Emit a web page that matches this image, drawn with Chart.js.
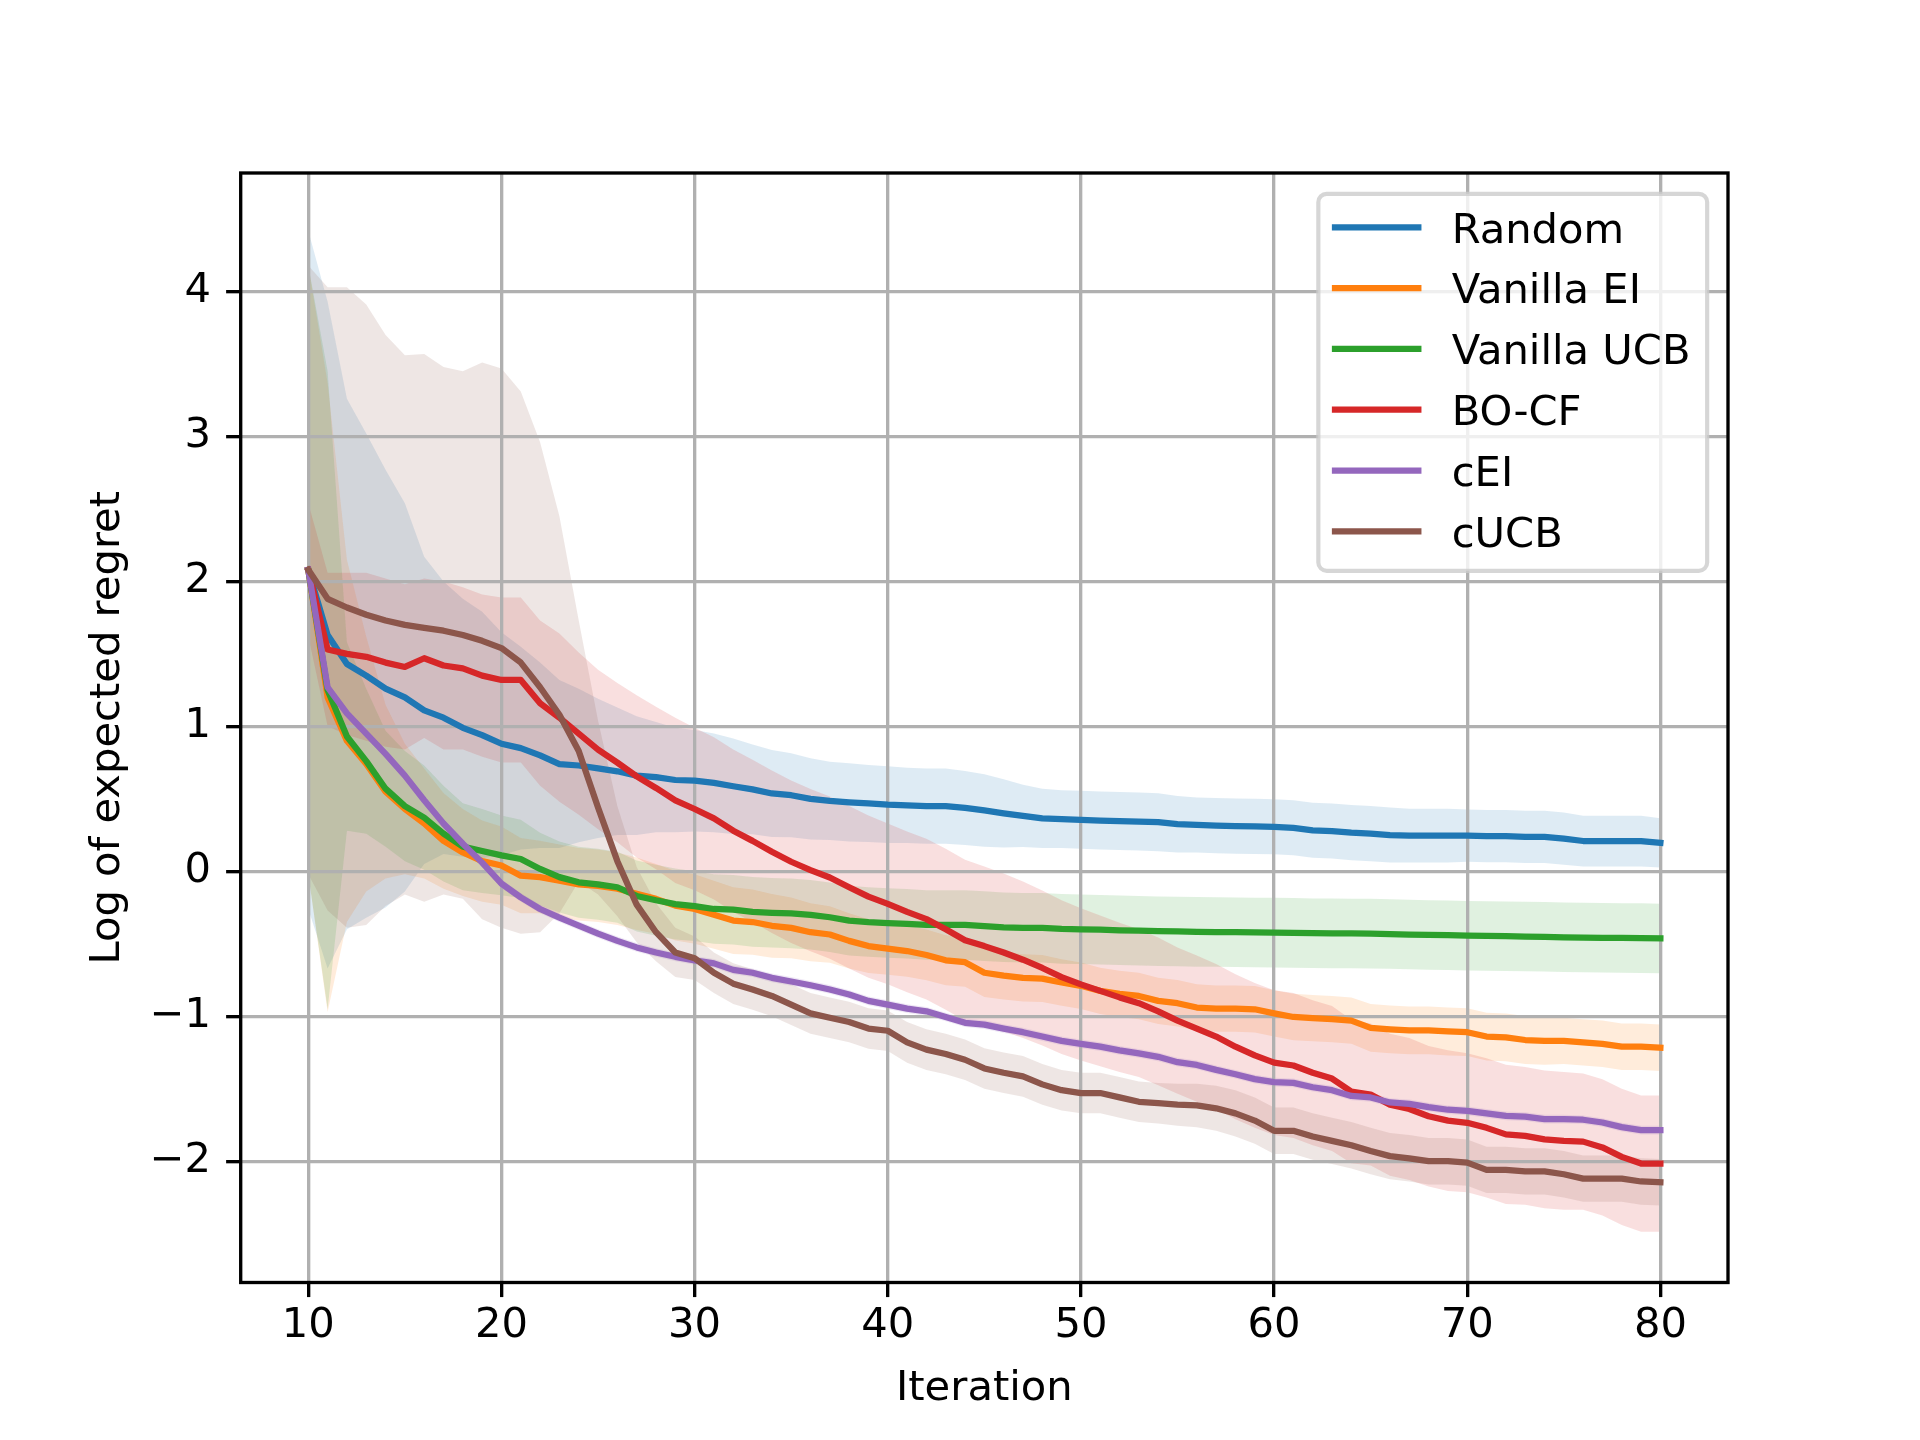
<!DOCTYPE html>
<html>
<head>
<meta charset="utf-8">
<style>
html,body{margin:0;padding:0;background:#ffffff;}
#wrap{width:1920px;height:1440px;}
canvas{display:block;}
</style>
<script src="https://cdn.jsdelivr.net/npm/chart.js@4.4.0/dist/chart.umd.min.js"></script>
</head>
<body>
<div id="wrap"><canvas id="c" width="1920" height="1440" style="width:1920px;height:1440px"></canvas></div>
<script>
// ---------------- DATA ----------------
const iterations = [10,11,12,13,14,15,16,17,18,19,20,21,22,23,24,25,26,27,28,29,30,31,32,33,34,35,36,37,38,39,40,41,42,43,44,45,46,47,48,49,50,51,52,53,54,55,56,57,58,59,60,61,62,63,64,65,66,67,68,69,70,71,72,73,74,75,76,77,78,79,80];
const xTicks = [10,20,30,40,50,60,70,80];
const yTicks = [-2,-1,0,1,2,3,4];
const seriesNames = ['Random','Vanilla EI','Vanilla UCB','BO-CF','cEI','cUCB'];

const randomMean = [2.08,1.63,1.43,1.35,1.26,1.20,1.11,1.06,0.99,0.94,
 0.88,0.85,0.80,0.74,0.73,0.71,0.69,0.66,0.65,0.63,
 0.625,0.61,0.587,0.565,0.537,0.525,0.50,0.486,0.476,0.468,
 0.46,0.455,0.45,0.45,0.437,0.42,0.40,0.383,0.365,0.36,
 0.355,0.35,0.347,0.343,0.339,0.325,0.32,0.315,0.312,0.31,
 0.307,0.30,0.283,0.278,0.267,0.26,0.25,0.246,0.246,0.246,
 0.246,0.243,0.243,0.238,0.238,0.225,0.209,0.209,0.209,0.209,
 0.196];
const randomStd = [2.34,2.30,1.83,1.67,1.51,1.34,1.06,0.94,0.89,0.85,
 0.77,0.70,0.64,0.58,0.53,0.48,0.44,0.41,0.38,0.36,
 0.35,0.34,0.33,0.31,0.30,0.29,0.28,0.27,0.27,0.265,
 0.265,0.26,0.26,0.26,0.255,0.25,0.235,0.215,0.205,0.20,
 0.20,0.20,0.20,0.20,0.20,0.195,0.19,0.19,0.19,0.19,
 0.19,0.19,0.19,0.19,0.19,0.19,0.19,0.185,0.185,0.185,
 0.18,0.18,0.18,0.18,0.18,0.18,0.175,0.175,0.175,0.175,
 0.17];

const eiMean = [2.08,1.20,0.90,0.74,0.55,0.43,0.33,0.21,0.13,0.07,
 0.04,-0.03,-0.04,-0.065,-0.09,-0.10,-0.12,-0.155,-0.19,-0.237,
 -0.26,-0.30,-0.34,-0.35,-0.376,-0.39,-0.42,-0.436,-0.48,-0.516,
 -0.534,-0.55,-0.577,-0.614,-0.627,-0.70,-0.72,-0.735,-0.74,-0.767,
 -0.79,-0.825,-0.846,-0.86,-0.894,-0.91,-0.94,-0.947,-0.947,-0.952,
 -0.98,-1.005,-1.013,-1.02,-1.03,-1.08,-1.09,-1.098,-1.098,-1.105,
 -1.11,-1.14,-1.146,-1.164,-1.17,-1.17,-1.18,-1.19,-1.21,-1.21,
 -1.217];
const eiStd = [2.10,2.17,1.25,0.88,0.60,0.45,0.38,0.33,0.30,0.28,
 0.27,0.26,0.25,0.25,0.25,0.25,0.25,0.25,0.24,0.24,
 0.24,0.235,0.23,0.225,0.22,0.21,0.20,0.195,0.19,0.185,
 0.18,0.178,0.175,0.172,0.17,0.168,0.165,0.163,0.162,0.16,
 0.16,0.16,0.16,0.16,0.16,0.16,0.16,0.16,0.16,0.16,
 0.16,0.16,0.16,0.16,0.16,0.165,0.165,0.165,0.165,0.165,
 0.165,0.165,0.165,0.165,0.165,0.16,0.16,0.16,0.16,0.16,
 0.16];

const ucbMean = [2.08,1.25,0.93,0.76,0.57,0.45,0.37,0.26,0.17,0.14,
 0.11,0.085,0.016,-0.04,-0.076,-0.09,-0.11,-0.17,-0.20,-0.226,
 -0.24,-0.26,-0.265,-0.28,-0.286,-0.29,-0.30,-0.317,-0.34,-0.35,
 -0.357,-0.362,-0.37,-0.37,-0.37,-0.378,-0.386,-0.39,-0.39,-0.397,
 -0.40,-0.403,-0.407,-0.41,-0.413,-0.415,-0.418,-0.419,-0.42,-0.422,
 -0.423,-0.425,-0.427,-0.428,-0.429,-0.43,-0.433,-0.436,-0.439,-0.441,
 -0.444,-0.446,-0.448,-0.45,-0.452,-0.455,-0.457,-0.459,-0.46,-0.461,
 -0.463];
const ucbStd = [2.10,2.20,0.65,0.50,0.40,0.38,0.36,0.33,0.30,0.29,
 0.275,0.27,0.25,0.245,0.245,0.245,0.245,0.245,0.245,0.245,
 0.24,0.24,0.24,0.24,0.24,0.24,0.24,0.24,0.24,0.24,
 0.24,0.24,0.24,0.24,0.24,0.24,0.24,0.24,0.24,0.24,
 0.24,0.24,0.24,0.24,0.24,0.24,0.24,0.24,0.24,0.24,
 0.24,0.24,0.24,0.24,0.24,0.24,0.24,0.24,0.24,0.24,
 0.24,0.24,0.24,0.24,0.24,0.24,0.24,0.24,0.24,0.24,
 0.24];

const bocfMean = [2.08,1.53,1.50,1.48,1.44,1.41,1.47,1.42,1.40,1.35,
 1.32,1.32,1.16,1.06,0.95,0.84,0.75,0.655,0.575,0.49,
 0.43,0.365,0.28,0.21,0.135,0.066,0.008,-0.043,-0.11,-0.175,
 -0.225,-0.28,-0.33,-0.40,-0.476,-0.516,-0.56,-0.61,-0.667,-0.73,
 -0.78,-0.825,-0.87,-0.91,-0.966,-1.03,-1.085,-1.14,-1.21,-1.27,
 -1.32,-1.34,-1.39,-1.43,-1.52,-1.54,-1.61,-1.64,-1.69,-1.72,
 -1.735,-1.77,-1.815,-1.825,-1.85,-1.86,-1.865,-1.905,-1.97,-2.016,
 -2.016];
const bocfStd = [0.46,0.53,0.56,0.58,0.58,0.57,0.55,0.58,0.56,0.56,
 0.57,0.57,0.57,0.58,0.56,0.55,0.55,0.56,0.56,0.57,
 0.56,0.56,0.56,0.56,0.56,0.56,0.56,0.56,0.56,0.56,
 0.555,0.555,0.555,0.555,0.555,0.55,0.545,0.54,0.535,0.53,
 0.525,0.52,0.515,0.51,0.51,0.505,0.505,0.5,0.5,0.5,
 0.5,0.5,0.5,0.5,0.495,0.49,0.49,0.49,0.485,0.485,
 0.48,0.48,0.48,0.475,0.475,0.475,0.47,0.47,0.47,0.47,
 0.47];

const ceiMean = [2.08,1.27,1.09,0.95,0.81,0.66,0.49,0.33,0.19,0.06,
 -0.085,-0.18,-0.26,-0.32,-0.375,-0.43,-0.48,-0.525,-0.56,-0.59,
 -0.615,-0.635,-0.68,-0.70,-0.735,-0.76,-0.786,-0.815,-0.85,-0.894,
 -0.92,-0.947,-0.966,-1.005,-1.045,-1.058,-1.085,-1.11,-1.14,-1.17,
 -1.19,-1.21,-1.235,-1.256,-1.28,-1.317,-1.336,-1.37,-1.40,-1.434,
 -1.455,-1.46,-1.49,-1.51,-1.55,-1.56,-1.595,-1.605,-1.627,-1.645,
 -1.653,-1.67,-1.688,-1.693,-1.71,-1.71,-1.714,-1.733,-1.765,-1.786,
 -1.786];
const ceiStd = [0.03,0.03,0.03,0.03,0.03,0.03,0.03,0.03,0.03,0.03,
 0.03,0.03,0.03,0.03,0.03,0.03,0.03,0.03,0.03,0.03,
 0.03,0.03,0.03,0.03,0.03,0.03,0.03,0.03,0.03,0.03,
 0.03,0.03,0.03,0.03,0.03,0.03,0.03,0.03,0.03,0.03,
 0.03,0.03,0.03,0.03,0.03,0.03,0.03,0.03,0.03,0.03,
 0.03,0.03,0.03,0.03,0.03,0.03,0.03,0.03,0.03,0.03,
 0.03,0.03,0.03,0.03,0.03,0.03,0.03,0.03,0.03,0.03,
 0.03];

const cucbMean = [2.08,1.88,1.82,1.77,1.73,1.70,1.68,1.66,1.63,1.59,
 1.54,1.44,1.27,1.08,0.83,0.44,0.07,-0.23,-0.42,-0.56,
 -0.60,-0.70,-0.775,-0.815,-0.86,-0.92,-0.98,-1.01,-1.04,-1.085,
 -1.10,-1.18,-1.23,-1.26,-1.30,-1.36,-1.39,-1.415,-1.47,-1.51,
 -1.53,-1.53,-1.56,-1.59,-1.60,-1.61,-1.615,-1.635,-1.67,-1.72,
 -1.79,-1.79,-1.83,-1.86,-1.89,-1.93,-1.965,-1.98,-2.0,-2.0,
 -2.01,-2.06,-2.06,-2.07,-2.07,-2.09,-2.12,-2.12,-2.12,-2.14,
 -2.145];
const cucbStd = [2.10,2.15,2.21,2.14,1.97,1.86,1.89,1.82,1.82,1.92,
 1.93,1.87,1.69,1.37,0.90,0.60,0.38,0.26,0.20,0.17,
 0.15,0.14,0.14,0.14,0.14,0.14,0.14,0.14,0.14,0.14,
 0.14,0.14,0.14,0.14,0.14,0.14,0.14,0.14,0.14,0.14,
 0.14,0.14,0.14,0.14,0.14,0.145,0.15,0.155,0.16,0.16,
 0.16,0.16,0.16,0.16,0.16,0.16,0.16,0.16,0.16,0.16,
 0.16,0.16,0.16,0.16,0.16,0.16,0.16,0.16,0.16,0.16,
 0.16];

// ---------------- STYLE ----------------
const PX = 300/72;               // 1pt at 300 dpi
const FS = 10*PX;                // 10pt font
const lineColors = ['#1f77b4','#ff7f0e','#2ca02c','#d62728','#9467bd','#8c564b'];
const bandColors = ['rgba(31,119,180,0.15)','rgba(255,127,14,0.15)','rgba(44,160,44,0.15)',
                    'rgba(214,39,40,0.15)','rgba(148,103,189,0.15)','rgba(140,86,75,0.15)'];

const means = [randomMean, eiMean, ucbMean, bocfMean, ceiMean, cucbMean];
const stds  = [randomStd, eiStd, ucbStd, bocfStd, ceiStd, cucbStd];

const datasets = [];
means.forEach((m, k) => {
  // upper edge, filled down to the following (lower edge) dataset
  datasets.push({
    label: seriesNames[k] + ' upper',
    data: iterations.map((x, i) => ({x: x, y: m[i] + stds[k][i]})),
    borderColor: 'rgba(0,0,0,0)', borderWidth: 1, pointRadius: 0,
    backgroundColor: bandColors[k],
    fill: '+1', order: 30 - k
  });
  datasets.push({
    label: seriesNames[k] + ' lower',
    data: iterations.map((x, i) => ({x: x, y: m[i] - stds[k][i]})),
    borderColor: 'rgba(0,0,0,0)', borderWidth: 1, pointRadius: 0,
    fill: false, order: 30 - k
  });
});
means.forEach((m, k) => {
  datasets.push({
    label: seriesNames[k],
    data: iterations.map((x, i) => ({x: x, y: m[i]})),
    borderColor: lineColors[k], borderWidth: 1.5*PX, pointRadius: 0,
    borderJoinStyle: 'round', borderCapStyle: 'square',
    fill: false, order: 10 - k
  });
});

const framePlugin = {
  id: 'frame',
  afterDatasetsDraw(chart) {
    const a = chart.chartArea, ctx = chart.ctx;
    ctx.save();
    ctx.strokeStyle = '#000';
    ctx.lineWidth = 0.8*PX;
    ctx.lineJoin = 'miter';
    ctx.strokeRect(a.left, a.top, a.right - a.left, a.bottom - a.top);
    ctx.restore();
  }
};

const legendPlugin = {
  id: 'mplLegend',
  afterDraw(chart) {
    const a = chart.chartArea, ctx = chart.ctx;
    ctx.save();
    ctx.font = FS + "px 'DejaVu Sans'";
    let maxW = 0;
    seriesNames.forEach(n => { maxW = Math.max(maxW, ctx.measureText(n).width); });
    const pad = 0.4*FS, handleLen = 2.0*FS, textPad = 0.8*FS, axPad = 0.5*FS;
    const w = pad + handleLen + textPad + maxW + pad;
    const rowGap = 60.8;
    const h = 377;
    const x0 = a.right - axPad - w, y0 = a.top + axPad;
    const r = 0.2*FS;
    ctx.beginPath();
    ctx.moveTo(x0 + r, y0);
    ctx.lineTo(x0 + w - r, y0); ctx.arcTo(x0 + w, y0, x0 + w, y0 + r, r);
    ctx.lineTo(x0 + w, y0 + h - r); ctx.arcTo(x0 + w, y0 + h, x0 + w - r, y0 + h, r);
    ctx.lineTo(x0 + r, y0 + h); ctx.arcTo(x0, y0 + h, x0, y0 + h - r, r);
    ctx.lineTo(x0, y0 + r); ctx.arcTo(x0, y0, x0 + r, y0, r);
    ctx.closePath();
    ctx.fillStyle = 'rgba(255,255,255,0.8)';
    ctx.fill();
    ctx.lineWidth = 1.0*PX;
    ctx.strokeStyle = 'rgba(204,204,204,0.8)';
    ctx.stroke();
    seriesNames.forEach((n, i) => {
      const cy = y0 + 33.5 + i*rowGap;
      ctx.beginPath();
      ctx.moveTo(x0 + pad, cy);
      ctx.lineTo(x0 + pad + handleLen, cy);
      ctx.strokeStyle = lineColors[i];
      ctx.lineWidth = 1.5*PX;
      ctx.lineCap = 'square';
      ctx.stroke();
      ctx.fillStyle = '#000';
      ctx.textBaseline = 'alphabetic';
      ctx.textAlign = 'left';
      ctx.fillText(n, x0 + pad + handleLen + textPad, cy + 0.3645*FS);
    });
    ctx.restore();
  }
};

Chart.defaults.font.family = "'DejaVu Sans'";
Chart.defaults.color = '#000';

new Chart(document.getElementById('c'), {
  type: 'line',
  data: { datasets: datasets },
  options: {
    responsive: false,
    devicePixelRatio: 1,
    animation: false,
    events: [],
    layout: { padding: { top: 173, right: 192, bottom: 0, left: 0 } },
    elements: { line: { tension: 0 } },
    plugins: {
      legend: { display: false },
      tooltip: { enabled: false },
      filler: { drawTime: 'beforeDraw', propagate: false }
    },
    scales: {
      x: {
        type: 'linear',
        min: 6.5, max: 83.5,
        afterBuildTicks: s => { s.ticks = xTicks.map(v => ({value: v})); },
        afterFit: s => { s.height = 1440 - 1282.5; },
        grid: { color: '#b0b0b0', lineWidth: 0.8*PX, drawTicks: true, tickLength: 3.5*PX,
                tickColor: '#000', tickWidth: 0.8*PX },
        border: { display: false },
        ticks: { font: { size: FS }, color: '#000', padding: 4, autoSkip: false, maxRotation: 0,
                 callback: v => String(v) },
        title: { display: true, text: 'Iteration', font: { size: FS }, color: '#000',
                 padding: { top: 0, bottom: 26 } }
      },
      y: {
        type: 'linear',
        min: -2.837, max: 4.818,
        afterBuildTicks: s => { s.ticks = yTicks.map(v => ({value: v})); },
        afterFit: s => { s.width = 240.7; },
        grid: { color: '#b0b0b0', lineWidth: 0.8*PX, drawTicks: true, tickLength: 3.5*PX,
                tickColor: '#000', tickWidth: 0.8*PX },
        border: { display: false },
        ticks: { font: { size: FS }, color: '#000', padding: 15,
                 callback: v => (v < 0 ? '\u2212' + Math.abs(v) : String(v)) },
        title: { display: true, text: 'Log of expected regret', font: { size: FS }, color: '#000',
                 padding: { top: 83, bottom: 0 } }
      }
    }
  },
  plugins: [framePlugin, legendPlugin]
});
</script>
</body>
</html>
